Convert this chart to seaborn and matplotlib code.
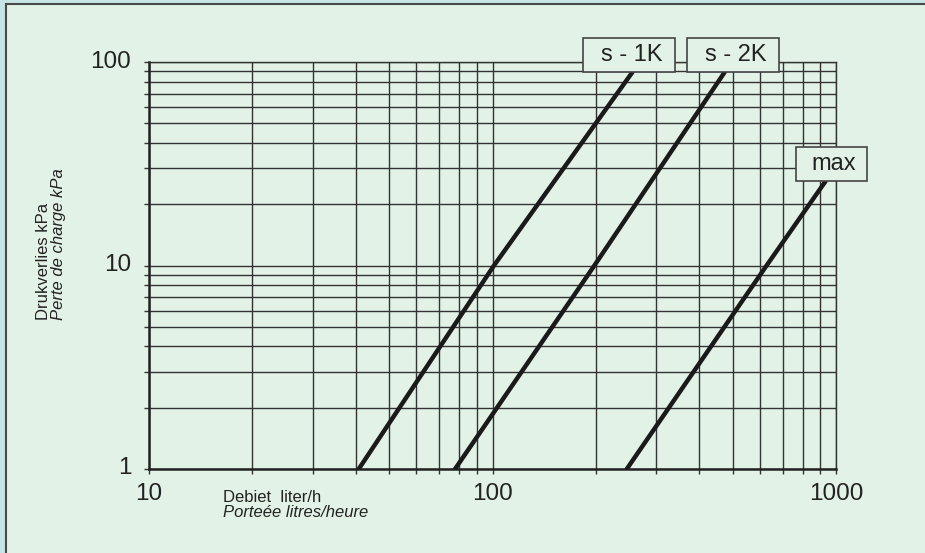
import matplotlib
matplotlib.use("Agg")
import matplotlib.pyplot as plt
import matplotlib.ticker as mticker
import matplotlib.transforms as mtransforms
from matplotlib.patches import Rectangle
import pandas as pd
import seaborn as sns

# curves: flow (l/h) vs pressure drop (kPa)
curve_names = ["s - 1K", "s - 2K", "max"]
s1k_flow = [40.8, 101, 256]
s1k_dp = [1, 10, 89.6]
s2k_flow = [77.8, 198, 475]
s2k_dp = [1, 10, 89.6]
max_flow = [246, 628, 933]
max_dp = [1, 10, 26]

x_ticks = [10, 100, 1000]
y_ticks = [1, 10, 100]

W, H = 925, 553
BG = "#e2f2e7"

sns.set_style("ticks")
plt.rcParams["font.family"] = ["Liberation Sans", "DejaVu Sans"]

df = pd.concat([
    pd.DataFrame({"flow": s1k_flow, "dp": s1k_dp, "curve": curve_names[0]}),
    pd.DataFrame({"flow": s2k_flow, "dp": s2k_dp, "curve": curve_names[1]}),
    pd.DataFrame({"flow": max_flow, "dp": max_dp, "curve": curve_names[2]}),
])

fig = plt.figure(figsize=(W / 100, H / 100), dpi=100)
fig.patch.set_facecolor("#c6e5e5")
fig.patch.set_edgecolor("#c6e5e5")
frame = Rectangle((6 / W, -1.0), 3.0, 2.0 - 4 / H, transform=fig.transFigure,
                  facecolor=BG, edgecolor="#4a4a4a", lw=1.5, zorder=-10)
fig.patches.append(frame)

ax = fig.add_axes([149 / W, 1 - 469 / H, 687 / W, 407 / H])
ax.set_facecolor(BG)

sns.lineplot(data=df, x="flow", y="dp", hue="curve", units="curve",
             estimator=None, sort=False,
             palette={n: "#1a1a1a" for n in curve_names},
             linewidth=3.2, legend=False, ax=ax, zorder=5)

ax.set_xscale("log")
ax.set_yscale("log")
ax.set_xlim(x_ticks[0], x_ticks[-1])
ax.set_ylim(y_ticks[0], y_ticks[-1])
ax.set_xticks(x_ticks)
ax.set_yticks(y_ticks)
fmt = mticker.FuncFormatter(lambda v, _: f"{v:g}")
ax.xaxis.set_major_formatter(fmt)
ax.yaxis.set_major_formatter(fmt)
ax.xaxis.set_minor_formatter(mticker.NullFormatter())
ax.yaxis.set_minor_formatter(mticker.NullFormatter())

ax.grid(which="both", color="#333333", lw=1)
ax.tick_params(which="both", direction="out", length=3.8, width=1,
               color="#333333", labelsize=17.5, labelcolor="#222222")
ax.tick_params(axis="x", pad=6)
ax.tick_params(axis="y", pad=9)
# y labels sit a little above their ticks in the original
lift = mtransforms.ScaledTranslation(0, 3 / 100, fig.dpi_scale_trans)
for lbl in ax.get_yticklabels():
    lbl.set_transform(lbl.get_transform() + lift)
ax.set_xlabel("")
ax.set_ylabel("")
for side in ["left", "bottom"]:
    ax.spines[side].set_linewidth(1.8)
    ax.spines[side].set_color("#222222")
for side in ["top", "right"]:
    ax.spines[side].set_linewidth(1)
    ax.spines[side].set_color("#333333")

# labelled boxes sitting on the upper end of each curve
box_left = [-50, -38, -30]
box_width = [92, 92, 71]
box_height = 34
ends = [(s1k_flow[-1], s1k_dp[-1]), (s2k_flow[-1], s2k_dp[-1]), (max_flow[-1], max_dp[-1])]
to_fig = fig.transFigure.inverted()
for name, end, bl, bw in zip(curve_names, ends, box_left, box_width):
    px, py = ax.transData.transform(end)
    x0, y0 = to_fig.transform((px + bl, py))
    x1, y1 = to_fig.transform((px + bl + bw, py + box_height))
    fig.patches.append(Rectangle((x0, y0), x1 - x0, y1 - y0, transform=fig.transFigure,
                                 facecolor=BG, edgecolor="#444444", lw=1.2, zorder=6))
    fig.text((x0 + x1) / 2 + 3 / W, (y0 + y1) / 2, name, ha="center", va="center",
             fontsize=17, color="#222222", zorder=7)

fig.text(223 / W, 1 - 502 / H, "Debiet  liter/h", ha="left", va="baseline",
         fontsize=12, color="#222222")
fig.text(223 / W, 1 - 517 / H, "Porteée litres/heure", ha="left", va="baseline",
         fontsize=12, style="italic", color="#222222")
fig.text(43 / W, 1 - 320 / H, "Drukverlies kPa", rotation=90, ha="center", va="bottom",
         fontsize=12, color="#222222")
fig.text(59 / W, 1 - 320 / H, "Perte de charge kPa", rotation=90, ha="center", va="bottom",
         fontsize=12, style="italic", color="#222222")

fig.savefig("out.png", dpi=100, facecolor=fig.get_facecolor(), edgecolor=fig.get_edgecolor())
